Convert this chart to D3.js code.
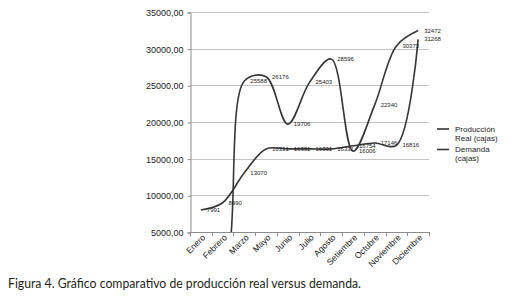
<!DOCTYPE html>
<html>
<head>
<meta charset="utf-8">
<script src="https://cdn.jsdelivr.net/npm/d3@7"></script>
<style>
  body { margin: 0; background: #fff; }
  svg { display: block; font-family: "Liberation Sans", Arial, sans-serif; }
</style>
</head>
<body>
<div id="chart"></div>
<script>
var meses = ["Enero", "Febrero", "Marzo", "Mayo", "Junio", "Julio", "Agosto",
  "Setiembre", "Octubre", "Noviembre", "Diciembre"];
var produccion = [0, 0, 25588, 26176, 19706, 25403, 28596, 16006, 22340, 30373, 32472];
var demanda = [7991, 8990, 13070, 16331, 16331, 16331, 16331, 16754, 17146, 16816, 31268];
var yTicks = [5000, 10000, 15000, 20000, 25000, 30000, 35000];
var series = [
  { name: ["Producción", "Real (cajas)"], values: produccion },
  { name: ["Demanda", "(cajas)"], values: demanda }
];

var width = 515, height = 298;
var plotLeft = 190, plotRight = 429, plotTop = 12, plotBottom = 232;
var lineColor = "#353535";

var svg = d3.select("#chart").append("svg")
  .attr("width", width)
  .attr("height", height);

var x = d3.scaleBand().domain(meses).range([plotLeft, plotRight]);
var y = d3.scaleLinear().domain([5000, 35000]).range([plotBottom, plotTop]);
var cx = function (i) { return x(meses[i]) + x.bandwidth() / 2; };

// gridlines
svg.append("g")
  .selectAll("line")
  .data(yTicks)
  .enter()
  .append("line")
  .attr("x1", plotLeft)
  .attr("x2", plotRight)
  .attr("y1", function (d) { return Math.round(y(d)) + 0.5; })
  .attr("y2", function (d) { return Math.round(y(d)) + 0.5; })
  .attr("stroke", function (d) { return d === 5000 ? "#8c8c8c" : "#c4c4c4"; })
  .attr("stroke-width", 1);

// y axis
var yAxis = svg.append("g")
  .attr("transform", "translate(" + (plotLeft + 0.5) + ",0.5)")
  .call(d3.axisLeft(y)
    .tickValues(yTicks)
    .tickSize(3)
    .tickPadding(4)
    .tickFormat(function (d) { return d3.format(".2f")(d).replace(".", ","); }));
yAxis.select(".domain").attr("stroke", "#8c8c8c");
yAxis.selectAll(".tick line").attr("stroke", "#8c8c8c");
yAxis.selectAll("text")
  .attr("font-size", 9)
  .attr("fill", "#222")
  .attr("font-family", "Liberation Sans, Arial, sans-serif");

// x axis ticks at category boundaries
svg.append("g")
  .selectAll("line")
  .data(d3.range(meses.length + 1))
  .enter()
  .append("line")
  .attr("x1", function (i) { return Math.round(plotLeft + i * x.step()) + 0.5; })
  .attr("x2", function (i) { return Math.round(plotLeft + i * x.step()) + 0.5; })
  .attr("y1", plotBottom)
  .attr("y2", plotBottom + 4)
  .attr("stroke", "#8c8c8c");

// x labels, rotated
svg.append("g")
  .selectAll("text")
  .data(meses)
  .enter()
  .append("text")
  .attr("transform", function (d, i) {
    return "translate(" + (cx(i) + 5) + "," + (plotBottom + 6) + ") rotate(-45)";
  })
  .attr("text-anchor", "end")
  .attr("font-size", 8.6)
  .attr("fill", "#222")
  .text(function (d) { return d; });

// clip to plot area
svg.append("clipPath")
  .attr("id", "plot")
  .append("rect")
  .attr("x", plotLeft)
  .attr("y", plotTop)
  .attr("width", plotRight - plotLeft)
  .attr("height", plotBottom - plotTop);

var line = d3.line()
  .x(function (d, i) { return cx(i); })
  .y(function (d) { return y(d); })
  .curve(d3.curveCatmullRom.alpha(0.5));

var g = svg.append("g").attr("clip-path", "url(#plot)");
series.forEach(function (s) {
  g.append("path")
    .attr("d", line(s.values))
    .attr("fill", "none")
    .attr("stroke", lineColor)
    .attr("stroke-width", 1.6);
});

// data labels
series.forEach(function (s) {
  svg.append("g")
    .selectAll("text")
    .data(s.values.map(function (v, i) { return { v: v, i: i }; })
      .filter(function (d) { return d.v >= 5000; }))
    .enter()
    .append("text")
    .attr("x", function (d) { return cx(d.i) + 6; })
    .attr("y", function (d) { return y(d.v) + 2; })
    .attr("font-size", 6)
    .attr("fill", "#222")
    .text(function (d) { return d.v; });
});

// legend
var legend = svg.append("g")
  .selectAll("g")
  .data(series)
  .enter()
  .append("g")
  .attr("transform", function (d, i) { return "translate(437," + (129 + i * 20.5) + ")"; });
legend.append("line")
  .attr("x1", 0)
  .attr("x2", 12)
  .attr("stroke", lineColor)
  .attr("stroke-width", 1.6);
legend.append("text")
  .attr("x", 18)
  .attr("y", 2.5)
  .attr("font-size", 8)
  .attr("fill", "#222")
  .selectAll("tspan")
  .data(function (d) { return d.name; })
  .enter()
  .append("tspan")
  .attr("x", 18)
  .attr("dy", function (d, i) { return i === 0 ? 0 : 9; })
  .text(function (d) { return d; });

// caption
svg.append("text")
  .attr("x", 8)
  .attr("y", 288)
  .attr("font-family", "Lato, 'Open Sans', sans-serif")
  .attr("font-size", 13)
  .attr("fill", "#231f20")
  .attr("textLength", 353)
  .attr("lengthAdjust", "spacingAndGlyphs")
  .text("Figura 4. Gráfico comparativo de producción real versus demanda.");
</script>
</body>
</html>
